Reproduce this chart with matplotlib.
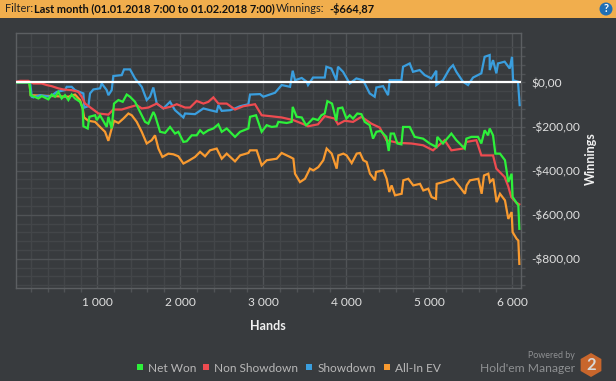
import numpy as np
import matplotlib
matplotlib.use('Agg')
import matplotlib.pyplot as plt
from matplotlib.patches import Rectangle, RegularPolygon, Circle

W, H = 616, 381
BG = '#383b3e'
plt.rcParams['font.family'] = ['Lato', 'DejaVu Sans']

# values: (hands, dollars)
net_won = [(13,0),(181,0),(197,-58),(290,-73),(330,-62),(410,-77),(450,-55),(490,-65),(530,-43),(570,-73),
    (611,-58),(651,-80),(691,-55),(731,-73),(792,-88),(824,-118),(832,-199),(884,-209),(904,-156),(973,-149),
    (993,-171),(1033,-149),(1113,-202),(1133,-156),(1173,-209),(1201,-96),(1254,-80),(1306,-88),(1354,-55),(1394,-65),
    (1454,-88),(1535,-149),(1575,-179),(1615,-187),(1675,-134),(1695,-149),(1756,-224),(1816,-229),(1876,-202),(1936,-232),
    (1976,-224),(2037,-270),(2077,-267),(2137,-240),(2197,-240),(2238,-217),(2278,-232),(2338,-217),(2398,-209),(2458,-190),
    (2499,-224),(2559,-209),(2659,-247),(2720,-224),(2820,-209),(2840,-156),(2912,-149),(2980,-224),(3041,-194),(3101,-202),
    (3161,-199),(3181,-179),(3282,-184),(3342,-179),(3354,-111),(3402,-156),(3463,-159),(3515,-194),(3539,-187),(3599,-164),
    (3659,-171),(3700,-149),(3740,-141),(3772,-85),(3828,-96),(3880,-174),(3900,-118),(3952,-114),(4001,-164),(4041,-149),
    (4081,-164),(4133,-141),(4182,-144),(4222,-179),(4282,-194),(4322,-255),(4362,-224),(4414,-220),(4482,-247),(4511,-311),
    (4535,-232),(4575,-232),(4615,-277),(4664,-281),(4684,-202),(4764,-202),(4824,-247),(4925,-255),(5005,-277),(5085,-293),
    (5097,-247),(5165,-277),(5266,-232),(5326,-262),(5427,-300),(5447,-255),(5507,-247),(5587,-247),(5627,-277),(5667,-217),
    (5708,-240),(5728,-209),(5768,-240),(5796,-323),(5852,-323),(5912,-353),(5952,-452),(5992,-414),(6004,-520),(6073,-558),(6085,-664)]
non_showdown = [(13,3),(69,7),(169,7),(230,-5),(330,-5),(390,-12),(450,-17),(530,-27),(591,-32),(691,-35),
    (772,-43),(812,-65),(852,-96),(932,-118),(1013,-141),(1133,-146),(1193,-123),(1294,-123),(1374,-114),(1475,-103),
    (1535,-118),(1615,-114),(1716,-96),(1796,-118),(1876,-111),(1957,-99),(2057,-114),(2117,-114),(2197,-84),(2278,-96),
    (2338,-88),(2398,-68),(2459,-96),(2559,-96),(2659,-123),(2760,-108),(2900,-99),(2980,-149),(3081,-153),(3221,-159),
    (3362,-171),(3515,-194),(3539,-199),(3659,-190),(3740,-153),(3860,-164),(3900,-190),(3981,-174),(4081,-179),(4182,-156),
    (4302,-187),(4403,-205),(4483,-262),(4623,-274),(4784,-277),(4925,-285),(5045,-308),(5185,-262),(5266,-308),(5406,-300),
    (5447,-270),(5567,-262),(5627,-331),(5768,-331),(5808,-391),(5908,-429),(5950,-470),(5988,-520),(6048,-545),(6085,-553)]
showdown = [(13,0),(190,0),(210,-65),(230,-68),(310,-58),(430,-65),(511,-43),(611,-35),(631,-20),(691,-20),
    (731,-35),(832,-50),(844,-114),(892,-108),(912,-50),(952,-32),(1033,-27),(1053,-5),(1113,-35),(1133,-58),
    (1173,-35),(1193,29),(1294,33),(1322,59),(1394,59),(1454,18),(1535,-20),(1595,-80),(1635,-65),(1675,-23),
    (1716,-96),(1796,-118),(1876,-88),(1936,-126),(2037,-159),(2057,-141),(2177,-144),(2278,-118),(2358,-126),(2438,-133),
    (2458,-103),(2499,-129),(2599,-126),(2659,-118),(2720,-108),(2820,-99),(2840,-55),(2960,-53),(3000,-65),(3141,-47),
    (3221,-12),(3322,-20),(3354,53),(3382,10),(3463,20),(3523,3),(3539,-12),(3599,22),(3740,22),(3760,71),
    (3820,63),(3880,10),(3900,71),(3961,48),(4041,-5),(4121,18),(4202,10),(4282,-50),(4342,-65),(4362,-23),
    (4443,-17),(4503,-58),(4523,10),(4664,10),(4684,71),(4764,86),(4804,48),(4884,56),(4945,33),(5025,18),
    (5085,53),(5085,-12),(5165,10),(5246,63),(5286,78),(5326,48),(5406,3),(5467,-12),(5527,22),(5627,41),
    (5667,116),(5728,124),(5728,56),(5768,101),(5808,41),(5828,86),(5908,94),(5969,63),(5997,116),(6009,10),(6069,3),(6089,-103)]
all_in_ev = [(13,0),(181,0),(197,-58),(651,-65),(731,-55),(792,-80),(824,-118),(840,-159),(892,-174),(973,-179),(1033,-202),
    (1093,-224),(1133,-265),(1165,-220),(1201,-174),(1254,-184),(1314,-164),(1374,-141),(1415,-149),(1475,-179),(1535,-224),
    (1595,-277),(1655,-262),(1695,-240),(1736,-300),(1784,-338),(1856,-323),(1916,-326),(1976,-335),(2037,-368),(2097,-356),
    (2177,-338),(2238,-315),(2298,-335),(2358,-308),(2438,-300),(2499,-346),(2559,-323),(2659,-358),(2720,-331),(2820,-320),
    (2840,-308),(2920,-308),(2980,-376),(3041,-353),(3161,-346),(3221,-320),(3322,-338),(3362,-346),(3382,-414),(3442,-452),
    (3502,-437),(3562,-391),(3603,-399),(3663,-384),(3723,-353),(3763,-300),(3824,-323),(3884,-391),(3904,-331),(3964,-323),
    (4004,-331),(4065,-366),(4125,-323),(4165,-320),(4205,-353),(4245,-361),(4285,-414),(4346,-444),(4358,-406),(4446,-399),
    (4486,-437),(4518,-497),(4546,-467),(4587,-512),(4667,-505),(4687,-444),(4747,-437),(4807,-467),(4888,-460),(4928,-490),
    (4988,-482),(5028,-520),(5081,-528),(5089,-460),(5169,-452),(5289,-437),(5370,-475),(5430,-505),(5450,-467),(5490,-444),
    (5591,-437),(5631,-505),(5659,-422),(5711,-414),(5731,-452),(5771,-437),(5811,-543),(5852,-505),(5912,-535),(5952,-619),
    (5992,-588),(6004,-679),(6052,-709),(6073,-717),(6085,-823)]

series_names = ['Net Won', 'Non Showdown', 'Showdown', 'All-In EV']
series_colors = ['#2df03a', '#ee4b50', '#3a9ede', '#f89a30']

x_major = [1000, 2000, 3000, 4000, 5000, 6000]
x_labels = ['1 000', '2 000', '3 000', '4 000', '5 000', '6 000']
y_major = [0, -200, -400, -600, -800]
y_labels = ['$0,00', '-$200,00', '-$400,00', '-$600,00', '-$800,00']

fig = plt.figure(figsize=(W / 100, H / 100), dpi=100, facecolor=BG)

# page overlay in pixel coordinates for the header and the legend
page = fig.add_axes([0, 0, 1, 1], zorder=0)
page.set_xlim(0, W)
page.set_ylim(H, 0)
page.axis('off')

ax = fig.add_axes([15.5 / W, 1 - 287.5 / H, 505 / W, 254.5 / H], zorder=1)
ax.set_facecolor('none')
ax.set_xlim(14, 6099)
ax.set_ylim(-930, 224)

ax.set_xticks(x_major)
ax.set_xticklabels(x_labels)
ax.set_xticks(np.arange(200, 6001, 200), minor=True)
ax.set_yticks(y_major)
ax.set_yticklabels(y_labels)
ax.set_yticks(np.arange(-920, 161, 40), minor=True)
ax.yaxis.tick_right()
ax.grid(True, which='major', color='#505356', lw=1)
ax.grid(True, which='minor', color='#434649', lw=1)
ax.set_axisbelow(True)
ax.tick_params(which='both', length=3, width=1, color='#505356', labelcolor='#e0e0e0', labelsize=8.6)
ax.tick_params(axis='y', which='both', length=3, pad=5)
ax.tick_params(axis='x', which='major', length=0, pad=7)
for side in ax.spines.values():
    side.set_color('#5c5f62')
    side.set_linewidth(1)

# drawn back to front
draw_order = [(all_in_ev, 3), (showdown, 2), (non_showdown, 1), (net_won, 0)]
for pts, i in draw_order:
    xs, ys = zip(*pts)
    ax.plot(xs, ys, color=series_colors[i], lw=1.6, solid_joinstyle='miter', zorder=3)
ax.axhline(0, color='white', lw=1.6, zorder=4)

# header
page.add_patch(Rectangle((0, 0), W, 18, color='#f1ae4d', lw=0))
page.text(5, 9, 'Filter:', fontsize=7.9, color='#222222', va='center')
page.text(34, 9, 'Last month (01.01.2018 7:00 to 01.02.2018 7:00)', fontsize=7.9, fontweight='bold', color='#111111', va='center')
page.text(276, 9, 'Winnings:', fontsize=7.9, color='#222222', va='center')
page.text(329, 9, '-$664,87', fontsize=7.9, fontweight='bold', color='#111111', va='center')
page.add_patch(Circle((606, 9), 6.5, color='#1f6fb5', lw=0))
page.text(606, 9, '?', fontsize=8, fontweight='bold', color='white', ha='center', va='center')

# axis titles
page.text(268, 326, 'Hands', fontsize=9, fontweight='bold', color='#f0f0f0', ha='center', va='center')
page.text(591, 159, 'Winnings', fontsize=9, fontweight='bold', color='#f0f0f0', rotation=90, ha='center', va='center')

# legend
leg_sq = [137, 203, 306, 384]
leg_txt = [148, 214, 318, 395]
for i in range(4):
    page.add_patch(Rectangle((leg_sq[i], 364), 6, 6, color=series_colors[i], lw=0))
    page.text(leg_txt[i], 368, series_names[i], fontsize=8.6, color='#b8b8b8', va='center')

# logo
page.text(575, 356, 'Powered by', fontsize=6.4, color='#8e9092', ha='right', va='center')
page.text(575, 368, "Hold'em Manager", fontsize=8.7, color='#8e9092', ha='right', va='center')
page.add_patch(RegularPolygon((591, 365), 6, radius=12, color='#c8662c', lw=0))
page.text(591, 365, '2', fontsize=12, fontweight='bold', color='#d8d8d8', ha='center', va='center')

fig.savefig('out.png', dpi=100, facecolor=BG)
